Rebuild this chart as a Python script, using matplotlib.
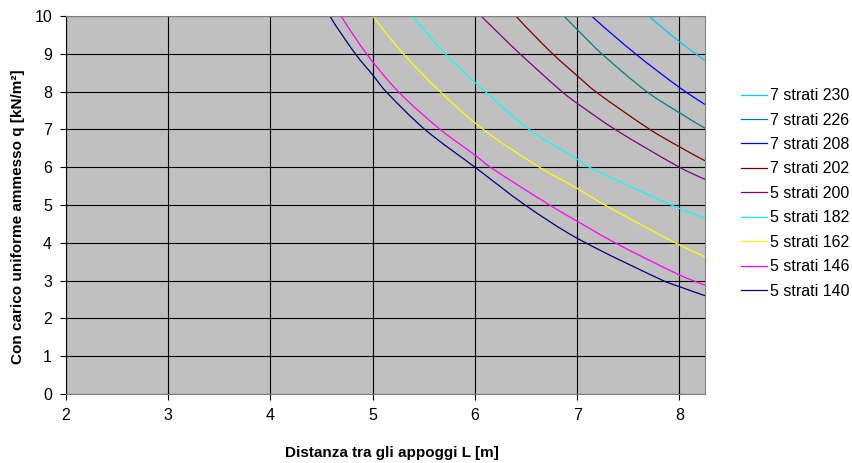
import matplotlib
matplotlib.use("Agg")
import matplotlib.pyplot as plt
import numpy as np
from matplotlib.path import Path
from matplotlib.patches import PathPatch
from matplotlib.lines import Line2D

plt.rcParams['font.family'] = ['Liberation Sans', 'DejaVu Sans']

# Curves: span L [m] -> admissible load q [kN/m2]
labels = ["5 strati 140", "5 strati 146", "5 strati 162", "5 strati 182", "5 strati 200",
          "7 strati 202", "7 strati 208", "7 strati 226", "7 strati 230"]
colors = ['#000080', '#FF00FF', '#FFFF00', '#00FFFF', '#800080',
          '#800000', '#0000FF', '#008080', '#00CCFF']

span_140 = [4.58, 4.83, 5.00, 5.13, 5.51, 6.00, 6.49, 7.00, 7.84, 8.00, 8.25]
load_140 = [10.0, 9.0, 8.44, 8.0, 7.0, 6.0, 5.0, 4.12, 3.0, 2.84, 2.60]

span_146 = [4.69, 4.94, 5.25, 5.66, 6.00, 6.15, 6.73, 7.00, 7.37, 8.00, 8.25]
load_146 = [10.0, 9.0, 8.0, 7.0, 6.32, 6.0, 5.0, 4.57, 4.0, 3.15, 2.88]

span_162 = [5.00, 5.30, 5.66, 6.08, 6.63, 7.00, 7.27, 7.96, 8.25]
load_162 = [10.0, 9.0, 8.0, 7.0, 6.0, 5.44, 5.0, 4.0, 3.63]

span_182 = [5.39, 5.71, 6.00, 6.10, 6.53, 7.00, 7.12, 7.92, 8.25]
load_182 = [10.0, 9.0, 8.24, 8.0, 7.0, 6.21, 6.0, 5.0, 4.65]

span_200 = [6.06, 6.24, 6.44, 6.85, 7.00, 7.37, 8.00, 8.25]
load_200 = [10.0, 9.52, 9.0, 8.0, 7.69, 7.0, 6.0, 5.68]

span_202 = [6.40, 6.76, 7.00, 7.18, 7.71, 8.00, 8.25]
load_202 = [10.0, 9.0, 8.42, 8.0, 7.0, 6.54, 6.17]

span_208 = [7.14, 7.57, 8.00, 8.25]
load_208 = [10.0, 9.0, 8.11, 7.66]

span_226 = [6.87, 7.03, 7.24, 7.68, 8.00, 8.25]
load_226 = [10.0, 9.56, 9.0, 8.0, 7.44, 7.03]

span_230 = [7.70, 8.00, 8.16, 8.25]
load_230 = [10.0, 9.32, 9.0, 8.82]

spans = [span_140, span_146, span_162, span_182, span_200, span_202, span_208, span_226, span_230]
loads = [load_140, load_146, load_162, load_182, load_200, load_202, load_208, load_226, load_230]


def smooth_path(x, y):
    """Excel-like smoothed line: cubic Bezier segments through the read points"""
    x = np.asarray(x, float)
    y = np.asarray(y, float)
    h = np.diff(x)
    d = np.diff(y) / h
    m = np.empty_like(x)
    m[1:-1] = (y[2:] - y[:-2]) / (x[2:] - x[:-2])
    if len(x) > 2:
        m[0] = ((2 * h[0] + h[1]) * d[0] - h[0] * d[1]) / (h[0] + h[1])
        m[-1] = ((2 * h[-1] + h[-2]) * d[-1] - h[-1] * d[-2]) / (h[-1] + h[-2])
    else:
        m[:] = d[0]
    verts = [(x[0], y[0])]
    codes = [Path.MOVETO]
    for i in range(len(x) - 1):
        verts += [(x[i] + h[i] / 3, y[i] + m[i] * h[i] / 3),
                  (x[i + 1] - h[i] / 3, y[i + 1] - m[i + 1] * h[i] / 3),
                  (x[i + 1], y[i + 1])]
        codes += [Path.CURVE4] * 3
    return Path(verts, codes)


fig = plt.figure(figsize=(8.52, 4.63), dpi=100)
ax = fig.add_axes([66 / 852, 69 / 463, 639 / 852, 378 / 463])
ax.set_facecolor('#C0C0C0')

handles = []
for x, y, c, lab in zip(spans, loads, colors, labels):
    ax.add_patch(PathPatch(smooth_path(x, y), facecolor='none', edgecolor=c, linewidth=0.9))
    handles.append(Line2D([], [], color=c, linewidth=0.9))

ax.set_xlim(2, 8.25)
ax.set_ylim(0, 10)
ax.set_xticks(range(2, 9))
ax.set_yticks(range(0, 11))
ax.grid(True, color='black', linewidth=0.8)
ax.set_axisbelow(True)
ax.tick_params(axis='both', direction='out', length=4, width=0.8, labelsize=11.5, pad=6)

for s in ['top', 'right']:
    ax.spines[s].set_color('#808080')
ax.spines['bottom'].set_color('#808080')
ax.spines['left'].set_color('black')

fig.text(18 / 852, 1 - 217 / 463, "Con carico uniforme ammesso q [kN/m²]", rotation=90,
         ha='center', va='center', fontsize=11, fontweight='bold')
fig.text(392 / 852, 1 - 453 / 463, "Distanza tra gli appoggi L [m]",
         ha='center', va='center', fontsize=11, fontweight='bold')

fig.legend(handles[::-1], labels[::-1], loc='upper left', bbox_to_anchor=(730 / 852, 1 - 77 / 463),
           frameon=False, fontsize=11.5, handlelength=1.6, handletextpad=0.2, labelspacing=0.59,
           borderpad=0.2)

plt.savefig("out.png", dpi=100)
plt.close()
